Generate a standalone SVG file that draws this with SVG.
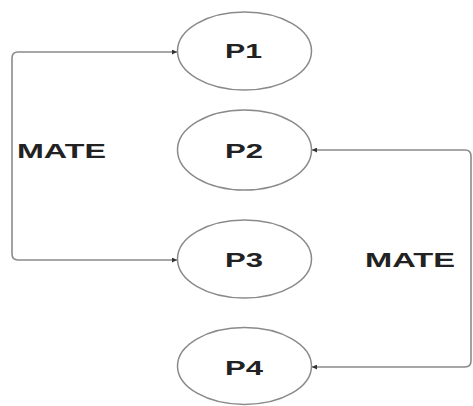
<svg xmlns="http://www.w3.org/2000/svg" width="473" height="406" viewBox="0 0 473 406">
<style>
.node ellipse{fill:#fff;stroke:#8a8a8a;stroke-width:1.5}
.lbl{font-family:"Liberation Sans",Arial,sans-serif;font-weight:bold;font-size:20px;fill:#222}
.conn{fill:none;stroke:#8a8a8a;stroke-width:1.6}
</style>
<defs>
<marker id="ah" viewBox="0 0 10 10" refX="10" refY="5" markerWidth="7" markerHeight="5" markerUnits="userSpaceOnUse" orient="auto-start-reverse">
<path d="M0,0 L10,5 L0,10 z" fill="#333"/>
</marker>
</defs>
<rect width="473" height="406" fill="#fff"/>
<g id="P1" class="node"><ellipse cx="244.5" cy="51" rx="67" ry="39"/><text class="lbl" x="225" y="58" textLength="37" lengthAdjust="spacingAndGlyphs">P1</text></g>
<g id="P2" class="node"><ellipse cx="244.5" cy="150" rx="67" ry="40"/><text class="lbl" x="225" y="158" textLength="38" lengthAdjust="spacingAndGlyphs">P2</text></g>
<g id="P3" class="node"><ellipse cx="244.5" cy="259" rx="67" ry="39"/><text class="lbl" x="225" y="267" textLength="38" lengthAdjust="spacingAndGlyphs">P3</text></g>
<g id="P4" class="node"><ellipse cx="244.5" cy="366" rx="67" ry="38.5"/><text class="lbl" x="225" y="375" textLength="38" lengthAdjust="spacingAndGlyphs">P4</text></g>
<g id="connectors">
<path class="conn" d="M177,52 H18 Q12,52 12,58 V254 Q12,260 18,260 H177" marker-end="url(#ah)" marker-start="url(#ah)"/>
<path class="conn" d="M312,150 H465 Q471,150 471,156 V361 Q471,367 465,367 H312" marker-end="url(#ah)" marker-start="url(#ah)"/>
<text class="lbl" x="17" y="158" textLength="89" lengthAdjust="spacingAndGlyphs">MATE</text>
<text class="lbl" x="365" y="267" textLength="90" lengthAdjust="spacingAndGlyphs">MATE</text>
</g>
</svg>
